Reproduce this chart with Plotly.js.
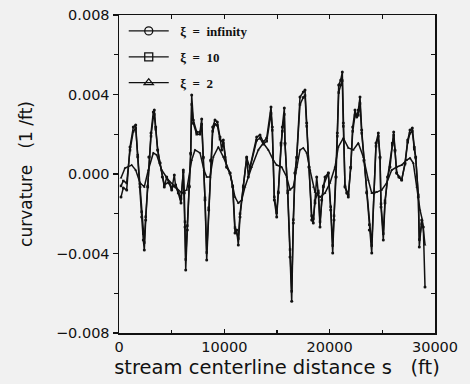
<!DOCTYPE html>
<html>
<head>
<meta charset="utf-8">
<script src="https://cdn.plot.ly/plotly-3.0.1.min.js"></script>
<style>html,body{margin:0;padding:0;background:#f1f1f1;}#chart{width:470px;height:384px;}</style>
</head>
<body>
<div id="chart"></div>
<script>
// stream centerline distance s (ft)
const sInf = [190,408,731,1044,1358,1585,1775,1994,2155,2307,2402,2535,2725,2848,3038,3256,3351,3484,3674,3893,4111,4301,4529,4747,5003,5250,5383,5630,5886,6105,6200,6266,6333,6485,6675,6807,6902,7054,7377,7690,7852,8003,8165,8327,8516,8706,8896,9114,9333,9589,9750,9902,10064,10225,10538,10795,11013,11174,11326,11488,11801,12124,12276,12437,13073,13387,13700,14023,14431,14554,14744,14972,15124,15380,15504,15694,15760,16016,16235,16396,16548,16709,16871,17184,17498,17659,17820,18039,18295,18447,18608,18770,18922,19083,19244,19396,19558,19871,20099,20289,20412,20602,20726,20859,21049,21200,21295,21456,21618,21770,21998,22188,22406,22568,22719,22881,23042,23260,23517,23764,23992,24210,24400,24618,24779,24874,25092,25254,25510,25728,25947,26080,26203,26364,26583,26839,27152,27409,27627,27846,28036,28169,28416,28511,28739,28890,29052];
// curvature (1/ft), xi = infinity
const cInf = [-0.00116,-0.00070,-0.00080,0.00136,0.00236,0.00247,0.00086,-0.00065,-0.00216,-0.00332,-0.00382,-0.00231,-0.00065,0.00086,0.00206,0.00312,0.00322,0.00236,0.00121,0.00055,-0.00015,-0.00065,-0.00015,-0.00045,-0.00080,-0.00005,-0.00065,-0.00096,-0.00146,0.00020,-0.00096,-0.00267,-0.00483,-0.00282,-0.00065,0.00106,0.00397,0.00272,0.00211,0.00211,0.00277,0.00086,-0.00131,-0.00433,-0.00181,0.00070,0.00236,0.00272,0.00262,0.00186,0.00121,0.00171,0.00086,0.00035,0.00005,-0.00065,-0.00297,-0.00282,-0.00357,-0.00216,-0.00065,0.00086,-0.00015,0.00035,0.00186,0.00196,0.00161,0.00181,0.00337,0.00236,-0.00131,-0.00216,-0.00096,0.00156,0.00236,0.00332,0.00156,-0.00096,-0.00418,-0.00640,-0.00247,0.00005,0.00086,0.00387,0.00413,0.00423,0.00257,0.00035,-0.00231,-0.00247,-0.00146,-0.00015,-0.00096,-0.00267,-0.00131,-0.00065,-0.00015,0.00005,-0.00181,-0.00397,-0.00231,-0.00015,0.00206,0.00448,0.00473,0.00513,0.00257,-0.00065,-0.00096,-0.00116,0.00035,0.00236,0.00322,0.00287,0.00322,0.00387,0.00221,0.00070,-0.00096,-0.00282,-0.00397,-0.00096,0.00156,0.00206,0.00086,-0.00166,-0.00332,-0.00146,-0.00015,0.00035,0.00156,0.00211,0.00121,0.00005,-0.00015,-0.00030,0.00055,0.00171,0.00221,0.00231,0.00136,0.00086,-0.00116,-0.00367,-0.00231,-0.00267,-0.00569];
// xi = 10
const s10 = [190,408,731,1044,1358,1585,1775,1994,2155,2307,2402,2535,2725,2848,3038,3256,3351,3484,3674,3893,4301,4747,5003,5383,5886,6105,6266,6333,6485,6675,6807,6902,7054,7377,7690,7852,8003,8165,8327,8516,8706,8896,9114,9333,9589,9902,10225,10538,10795,11013,11326,11488,11801,12124,12437,13073,13387,13700,14023,14431,14554,14744,14972,15124,15380,15504,15694,15760,16016,16235,16396,16548,16709,16871,17184,17498,17659,17820,18039,18295,18447,18608,18922,19083,19396,19871,20099,20289,20412,20602,20726,20859,21049,21200,21295,21456,21770,21998,22188,22406,22719,22881,23042,23260,23517,23764,23992,24210,24400,24618,24779,24874,25092,25254,25510,25947,26080,26203,26364,26583,26839,27152,27409,27627,27846,28036,28169,28416,28511,28739];
const c10 = [-0.00060,-0.00035,-0.00045,0.00120,0.00215,0.00230,0.00095,-0.00050,-0.00190,-0.00300,-0.00345,-0.00215,-0.00060,0.00085,0.00190,0.00285,0.00300,0.00225,0.00120,0.00055,-0.00055,-0.00040,-0.00070,-0.00055,-0.00125,0.00010,-0.00240,-0.00430,-0.00260,-0.00060,0.00100,0.00350,0.00255,0.00200,0.00200,0.00250,0.00080,-0.00120,-0.00395,-0.00170,0.00065,0.00215,0.00250,0.00245,0.00175,0.00155,0.00035,0.00005,-0.00060,-0.00270,-0.00325,-0.00200,-0.00060,0.00080,0.00030,0.00170,0.00180,0.00150,0.00165,0.00305,0.00220,-0.00115,-0.00195,-0.00090,0.00145,0.00215,0.00300,0.00150,-0.00085,-0.00380,-0.00590,-0.00230,0.00005,0.00080,0.00350,0.00385,0.00395,0.00240,0.00035,-0.00210,-0.00225,-0.00135,-0.00085,-0.00240,-0.00060,0.00005,-0.00165,-0.00360,-0.00210,-0.00015,0.00190,0.00410,0.00448,0.00470,0.00240,-0.00060,-0.00105,0.00030,0.00215,0.00295,0.00295,0.00355,0.00205,0.00065,-0.00090,-0.00255,-0.00360,-0.00090,0.00140,0.00190,0.00080,-0.00150,-0.00300,-0.00135,-0.00015,0.00145,0.00195,0.00115,0.00005,-0.00015,-0.00030,0.00050,0.00160,0.00205,0.00215,0.00125,0.00080,-0.00105,-0.00330,-0.00250];
// xi = 2
const s2 = [190,570,1206,1585,1994,2402,2782,3256,3579,4054,4680,5317,5953,6427,6902,7215,7690,8070,8327,8640,8953,9428,9902,10538,11013,11326,11649,11962,12599,13225,13700,14175,14649,14972,15447,15921,16235,16548,16871,17184,17498,17820,18134,18447,18608,19083,19558,20033,20507,20821,21295,21770,22245,22719,23194,23669,23992,24466,24941,25415,25890,26364,26839,27314,27627,27940,28264,28577,28795,29052];
const c2 = [-0.00020,0.00030,0.00045,0.00020,-0.00045,-0.00065,0.00020,0.00106,0.00096,0.00020,-0.00030,-0.00065,-0.00096,-0.00080,0.00070,0.00121,0.00106,0.00020,-0.00015,-0.00015,0.00086,0.00136,0.00086,0.00005,-0.00116,-0.00146,-0.00131,-0.00065,0.00035,0.00121,0.00156,0.00121,0.00070,0.00045,0.00035,-0.00015,-0.00080,-0.00065,0.00035,0.00121,0.00131,0.00106,0.00020,-0.00065,-0.00091,-0.00116,-0.00096,-0.00045,0.00035,0.00136,0.00181,0.00131,0.00121,0.00156,0.00086,-0.00030,-0.00096,-0.00091,-0.00080,-0.00045,0.00020,0.00035,0.00045,0.00070,0.00080,0.00055,-0.00065,-0.00181,-0.00231,-0.00357];
const names = ['\u00a0\u00a0\u03be\u00a0\u00a0=\u00a0\u00a0infinity', '\u00a0\u00a0\u03be\u00a0\u00a0=\u00a0\u00a010', '\u00a0\u00a0\u03be\u00a0\u00a0=\u00a0\u00a02'];
const symbols = ['circle-open', 'square-open', 'triangle-up-open'];
const xTickVals = [0, 10000, 20000, 30000];
const xTickText = ['0', '10000', '20000', '30000'];
const yTickVals = [-0.008, -0.004, 0, 0.004, 0.008];
const yTickText = ['\u22120.008', '\u22120.004', '0.000', '0.004', '0.008'];

const lineStyle = {color: '#111', width: 1.5};
const traces = [
  {x: sInf, y: cInf, mode: 'lines+markers', line: lineStyle, marker: {symbol: 'circle', size: 3, color: '#111'}, showlegend: false},
  {x: s10, y: c10, mode: 'lines+markers', line: lineStyle, marker: {symbol: 'square', size: 2.5, color: '#111'}, showlegend: false},
  {x: s2, y: c2, mode: 'lines+markers', line: lineStyle, marker: {symbol: 'triangle-up', size: 2.5, color: '#111'}, showlegend: false}
];
for (let i = 0; i < 3; i++) {
  traces.push({x: [null], y: [null], mode: 'lines+markers', name: names[i], legendgroup: 'g' + i,
    line: {color: '#111', width: 1.2}, marker: {symbol: symbols[i], size: 8, color: '#111', line: {width: 1.3, color: '#111'}}});
}
traces.push({x: [null], y: [null], xaxis: 'x2', yaxis: 'y2', showlegend: false, hoverinfo: 'skip'});

const sans = 'DejaVu Sans, Verdana, sans-serif';
const tickFont = {family: sans, size: 14.5, color: '#111'};
const layout = {
  width: 470, height: 384,
  margin: {l: 119, r: 35, t: 15, b: 51},
  paper_bgcolor: '#f1f1f1', plot_bgcolor: '#f1f1f1',
  showlegend: true,
  legend: {x: 0.015, y: 0.997, xanchor: 'left', yanchor: 'top', bgcolor: 'rgba(0,0,0,0)',
    font: {family: 'Liberation Serif, serif', size: 13, color: '#111', weight: 'bold'}, tracegroupgap: 6, itemwidth: 40},
  xaxis: {range: [0, 30000], tickvals: xTickVals, ticktext: xTickText,
    ticks: 'inside', ticklen: 4, tickwidth: 1.2, tickcolor: '#111',
    minor: {tickvals: [5000, 15000, 25000], ticks: 'inside', ticklen: 3, tickcolor: '#111'},
    showline: true, linecolor: '#111', linewidth: 1.5, mirror: true, showgrid: false, zeroline: false,
    tickfont: tickFont,
    title: {text: 'stream centerline distance s\u00a0\u00a0\u00a0(ft)', font: {family: sans, size: 19.5, color: '#111'}, standoff: 6}},
  yaxis: {range: [-0.008, 0.008], tickvals: yTickVals, ticktext: yTickText,
    ticks: 'outside', ticklen: 5, tickwidth: 1.2, tickcolor: '#111',
    minor: {tickvals: [-0.006, -0.002, 0.002, 0.006], ticks: 'outside', ticklen: 4, tickcolor: '#111'},
    showline: true, linecolor: '#111', linewidth: 1.5, mirror: true, showgrid: false, zeroline: false,
    tickfont: tickFont,
    title: {text: 'curvature\u00a0\u00a0\u00a0(1\u00a0/ft)', font: {family: sans, size: 17, color: '#111'}, standoff: 19}},
  xaxis2: {overlaying: 'x', side: 'top', range: [0, 30000], tickvals: [5000, 10000, 15000, 20000, 25000],
    ticks: 'inside', ticklen: 4, tickcolor: '#111', showticklabels: false, showgrid: false, zeroline: false, showline: false},
  yaxis2: {overlaying: 'y', side: 'right', range: [-0.008, 0.008], tickvals: [-0.006, -0.004, -0.002, 0, 0.002, 0.004, 0.006],
    ticks: 'inside', ticklen: 4, tickcolor: '#111', showticklabels: false, showgrid: false, zeroline: false, showline: false}
};
Plotly.newPlot('chart', traces, layout, {displayModeBar: false, staticPlot: true});
</script>
</body>
</html>
